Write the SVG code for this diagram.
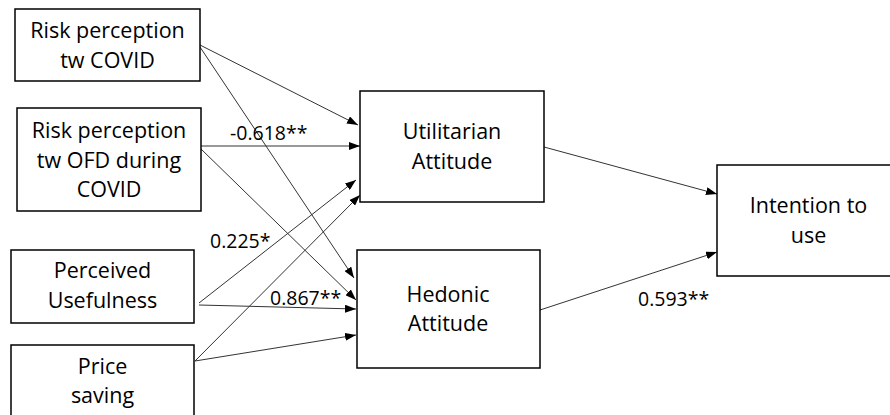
<svg xmlns="http://www.w3.org/2000/svg" width="890" height="415" viewBox="0 0 890 415">
<defs>
<marker id="ah" markerUnits="userSpaceOnUse" markerWidth="11" markerHeight="8" refX="11" refY="4" orient="auto">
<path d="M0,0 L11,4 L0,8 z" fill="#000"/>
</marker>
<style>
.box{fill:#fff;stroke:#000;stroke-width:1.5}
.t{font-family:"Open Sans","Noto Sans",sans-serif;font-size:21.5px;fill:#000;text-anchor:middle}
.lbl{font-family:"Open Sans","Noto Sans",sans-serif;font-size:19.5px;fill:#000}
.c line{stroke:#333;stroke-width:1;marker-end:url(#ah)}
</style>
</defs>
<rect width="890" height="415" fill="#fff"/>
<g class="c" id="connectors">
<line x1="200" y1="45" x2="358" y2="125"/>
<line x1="200" y1="47" x2="354" y2="278"/>
<line x1="201" y1="146" x2="360" y2="146"/>
<line x1="201" y1="149" x2="356" y2="300"/>
<line x1="199" y1="303" x2="356" y2="180"/>
<line x1="199" y1="305" x2="356" y2="309"/>
<line x1="195" y1="361" x2="360" y2="195"/>
<line x1="195" y1="361" x2="356" y2="335"/>
<line x1="544" y1="147" x2="717" y2="194"/>
<line x1="540" y1="310" x2="717" y2="252"/>
</g>
<g id="n1">
<rect class="box" x="15" y="9" width="185" height="72"/>
<text class="t" x="107.5" y="38">Risk perception</text>
<text class="t" x="107.5" y="68">tw COVID</text>
</g>
<g id="n2">
<rect class="box" x="17" y="108" width="184" height="103"/>
<text class="t" x="109" y="138">Risk perception</text>
<text class="t" x="109" y="168">tw OFD during</text>
<text class="t" x="109" y="197">COVID</text>
</g>
<g id="n3">
<rect class="box" x="11" y="250" width="183" height="73"/>
<text class="t" x="102.5" y="278">Perceived</text>
<text class="t" x="102.5" y="308">Usefulness</text>
</g>
<g id="n4">
<rect class="box" x="11" y="345" width="183" height="80"/>
<text class="t" x="102.5" y="374">Price</text>
<text class="t" x="102.5" y="403">saving</text>
</g>
<g id="n5">
<rect class="box" x="360" y="91" width="184" height="111"/>
<text class="t" x="452" y="139">Utilitarian</text>
<text class="t" x="452" y="169">Attitude</text>
</g>
<g id="n6">
<rect class="box" x="357" y="250" width="183" height="118"/>
<text class="t" x="448" y="302">Hedonic</text>
<text class="t" x="448" y="331">Attitude</text>
</g>
<g id="n7">
<rect class="box" x="717" y="165" width="190" height="111"/>
<text class="t" x="808.5" y="213">Intention to</text>
<text class="t" x="808.5" y="243">use</text>
</g>
<g id="labels">
<text class="lbl" x="230" y="140">-0.618**</text>
<text class="lbl" x="210" y="248">0.225*</text>
<text class="lbl" x="270" y="305">0.867**</text>
<text class="lbl" x="638" y="306">0.593**</text>
</g>
</svg>
